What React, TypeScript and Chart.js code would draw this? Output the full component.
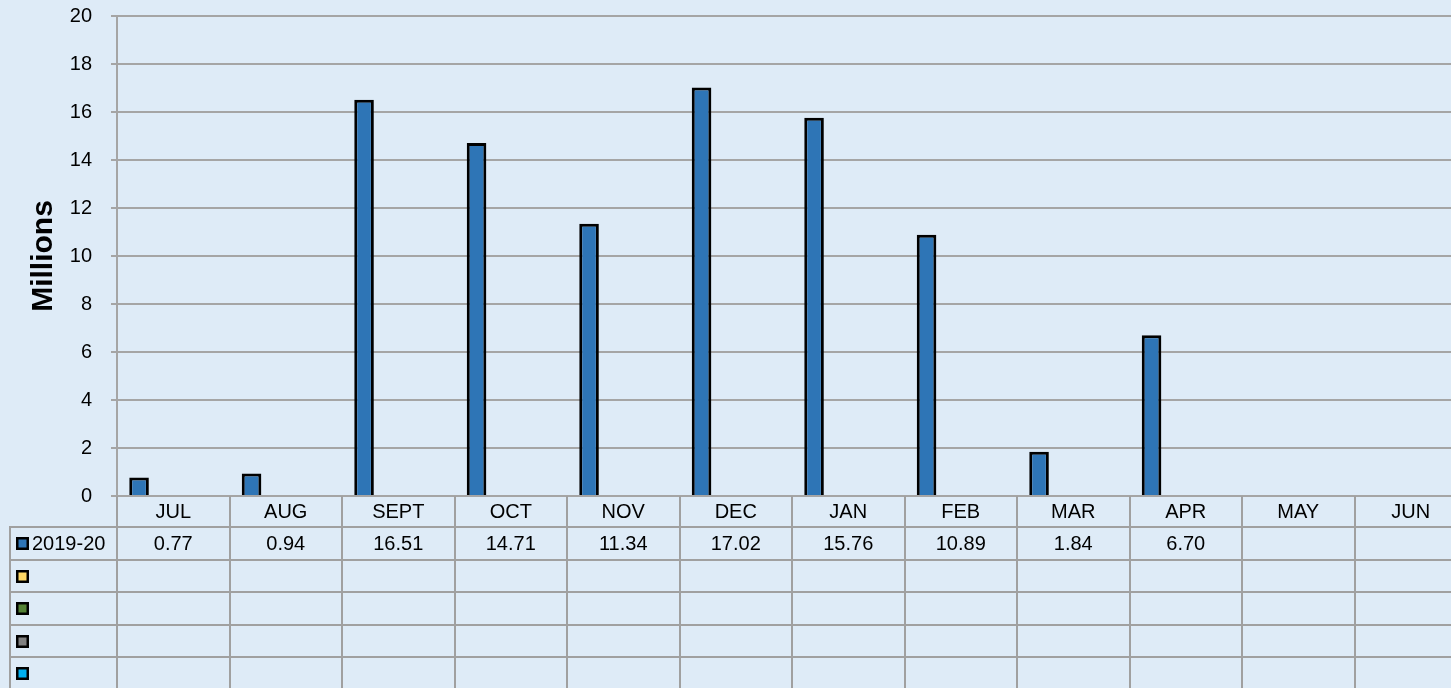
import React, { useEffect, useRef } from 'react';
import { Chart, registerables } from 'chart.js';

Chart.register(...registerables);

const months = ['JUL', 'AUG', 'SEPT', 'OCT', 'NOV', 'DEC', 'JAN', 'FEB', 'MAR', 'APR', 'MAY', 'JUN'];
const values2019 = [0.77, 0.94, 16.51, 14.71, 11.34, 17.02, 15.76, 10.89, 1.84, 6.7, null, null];
const emptySeries = [null, null, null, null, null, null, null, null, null, null, null, null];
const seriesNames = ['2019-20', '', '', '', ''];
const seriesColors = ['#2E75B6', '#FFD966', '#548235', '#808080', '#00B0F0'];
const yMin = 0;
const yMax = 20;
const yStep = 2;
const axisTitle = 'Millions';

const FONT = 'Arial, "Liberation Sans", sans-serif';
const BG = '#DEEBF7';
const GRID = '#A5A5A5';
const TABLE_LINE = '#A0A0A0';

const tablePlugin = {
  id: 'dataTable',
  afterDraw(chart: any) {
    const { ctx, chartArea } = chart;
    const x = chart.scales.x;
    const datasets = chart.data.datasets;
    const colW = x.getPixelForValue(1) - x.getPixelForValue(0);
    const top = chartArea.bottom;
    const headerH = 31;
    const rowH = 32.5;
    const tableLeft = 10;
    const n = datasets.length;
    const tableBottom = top + headerH + n * rowH + 2;
    const rightEdge = chartArea.right;

    ctx.save();
    ctx.strokeStyle = TABLE_LINE;
    ctx.lineWidth = 2;
    for (let r = 0; r <= n; r++) {
      const y = Math.round(top + headerH + r * rowH);
      ctx.beginPath();
      ctx.moveTo(tableLeft - 1, y);
      ctx.lineTo(rightEdge + 1, y);
      ctx.stroke();
    }
    for (let k = 0; k <= months.length; k++) {
      const xx = Math.round(x.getPixelForValue(k) - colW / 2);
      ctx.beginPath();
      ctx.moveTo(xx, top);
      ctx.lineTo(xx, tableBottom);
      ctx.stroke();
    }
    ctx.beginPath();
    ctx.moveTo(tableLeft, Math.round(top + headerH));
    ctx.lineTo(tableLeft, tableBottom);
    ctx.stroke();

    ctx.fillStyle = '#000';
    ctx.font = `20px ${FONT}`;
    ctx.textAlign = 'center';
    ctx.textBaseline = 'alphabetic';
    months.forEach((m, i) => {
      ctx.fillText(m, x.getPixelForValue(i), top + 22);
    });

    datasets.forEach((ds: any, r: number) => {
      const rowTop = top + headerH + r * rowH;
      const cy = rowTop + rowH / 2;
      const ky = Math.round(cy - 6);
      ctx.fillStyle = ds.backgroundColor;
      ctx.fillRect(16, ky, 13, 13);
      ctx.strokeStyle = '#000';
      ctx.lineWidth = 2.5;
      ctx.strokeRect(17.25, ky + 1.25, 10.5, 10.5);
      ctx.fillStyle = '#000';
      ctx.textAlign = 'left';
      if (ds.label) ctx.fillText(ds.label, 32, rowTop + 23);
      ctx.textAlign = 'center';
      ds.data.forEach((v: number | null, i: number) => {
        if (v === null || v === undefined) return;
        ctx.fillText(v.toFixed(2), x.getPixelForValue(i), rowTop + 23);
      });
    });
    ctx.restore();
  },
};

export default function App() {
  const canvasRef = useRef<HTMLCanvasElement | null>(null);

  useEffect(() => {
    const canvas = canvasRef.current;
    if (!canvas) return;
    const seriesData = [values2019, emptySeries, emptySeries, emptySeries, emptySeries];
    const chart = new Chart(canvas, {
      type: 'bar',
      data: {
        labels: months,
        datasets: seriesData.map((d, i) => ({
          label: seriesNames[i],
          data: d,
          backgroundColor: seriesColors[i],
          borderColor: '#000',
          borderWidth: 3,
          categoryPercentage: 0.76,
          barPercentage: 1.146,
        })),
      },
      options: {
        animation: false,
        responsive: false,
        devicePixelRatio: 1,
        layout: { padding: { left: 0, top: 16, right: 3, bottom: 192 } },
        plugins: {
          legend: { display: false },
          tooltip: { enabled: false },
        },
        scales: {
          x: {
            display: false,
            offset: true,
          },
          y: {
            min: yMin,
            max: yMax,
            ticks: {
              stepSize: yStep,
              color: '#000',
              font: { family: FONT, size: 20 },
              padding: 19,
            },
            grid: { color: GRID, lineWidth: 2, tickLength: 6, drawTicks: true },
            border: { display: true, color: GRID, width: 2 },
            title: {
              display: true,
              text: axisTitle,
              color: '#000',
              font: { family: FONT, size: 30, weight: 'bold' },
              padding: { top: 26, bottom: 0 },
            },
            afterFit: (scale: any) => {
              scale.width = 117;
              scale.paddingTop = 0;
              scale.paddingBottom = 0;
            },
          },
        },
      },
      plugins: [tablePlugin],
    });
    return () => chart.destroy();
  }, []);

  return (
    <div
      style={{
        position: 'fixed',
        left: 0,
        top: 0,
        width: '100vw',
        height: '100vh',
        background: BG,
        overflow: 'hidden',
      }}
    >
      <canvas
        ref={canvasRef}
        width={1470}
        height={688}
        style={{ position: 'absolute', left: 0, top: 0, display: 'block', width: 1470, height: 688 }}
      />
    </div>
  );
}
